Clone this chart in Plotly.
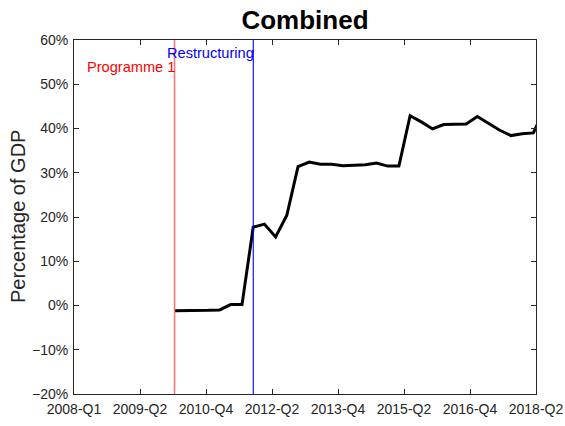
import numpy as np
import plotly.graph_objects as go

# Combined exposure, percentage of GDP, one observation per quarter
combined_share = [-1.2, -1.2, -1.1, -1.1, -1.0, 0.2, 0.2, 17.7, 18.4, 15.5,
                  20.4, 31.4, 32.4, 31.9, 31.9, 31.6, 31.7, 31.8, 32.2, 31.5,
                  31.5, 42.9, 41.5, 39.9, 40.9, 40.9, 41.0, 42.7, 41.1, 39.6,
                  38.4, 38.8, 39.0, 44.5]
first_obs = 2010.29      # decimal year of the first observation
obs_step = 0.2547        # spacing between observations, in years

# Event markers (decimal years)
event_names = ["Programme 1", "Restructuring"]
event_dates = [2010.285, 2012.074]
event_line_colors = ["#ff7070", "#0000ff"]
event_text_colors = ["#ff0000", "#0000ff"]

# Axis ticks
tick_years = [2008.0, 2009.5, 2011.0, 2012.5, 2014.0, 2015.5, 2017.0, 2018.5]
tick_labels = ["2008-Q1", "2009-Q2", "2010-Q4", "2012-Q2",
               "2013-Q4", "2015-Q2", "2016-Q4", "2018-Q2"]

x = first_obs + obs_step * np.arange(len(combined_share))

FONT = "Liberation Sans, Arial, sans-serif"
AX = "#262626"
L, R, T, B, W, H = 74, 29, 40, 32, 565, 426

fig = go.Figure()
fig.add_trace(go.Scatter(x=x, y=combined_share, mode="lines",
                         line=dict(color="black", width=3),
                         showlegend=False, hoverinfo="skip"))

for name, d, lc, tc, ylab, w in zip(event_names, event_dates, event_line_colors,
                                    event_text_colors, [0.924, 0.962], [1.5, 1.1]):
    fig.add_shape(type="line", xref="x", yref="paper", x0=d, x1=d, y0=0, y1=1,
                  line=dict(color=lc, width=w), layer="above")
    fig.add_annotation(x=d, y=ylab, xref="x", yref="paper", text=name,
                       showarrow=False, xanchor="right", yanchor="middle",
                       xshift=1.5, font=dict(family=FONT, size=14.6, color=tc),
                       borderpad=0)

# Rotated y-axis title
fig.add_annotation(x=(18 - L) / (W - L - R), y=0.5, xref="paper", yref="paper",
                   text="Percentage of GDP", showarrow=False, textangle=-90,
                   xanchor="center", yanchor="middle",
                   font=dict(family=FONT, size=20, color=AX))

fig.update_layout(
    width=W, height=H,
    margin=dict(l=L, r=R, t=T, b=B, autoexpand=False),
    paper_bgcolor="white", plot_bgcolor="white",
    font=dict(family=FONT, color=AX),
    title=dict(text="<b>Combined</b>", x=0.5, xref="paper",
               y=1 - 20 / H, yref="container", yanchor="middle",
               xanchor="center", font=dict(family=FONT, size=26, color="black")),
)
fig.update_xaxes(range=[2008.0, 2018.5], tickvals=tick_years, ticktext=tick_labels,
                 showgrid=False, zeroline=False, showline=True, linecolor=AX,
                 linewidth=1, mirror="ticks", ticks="inside", ticklen=5,
                 tickcolor=AX, tickfont=dict(size=14, color=AX), automargin=False,
                 ticklabelstandoff=2)
fig.update_yaxes(range=[-20, 60], dtick=10, ticksuffix="%",
                 showgrid=False, zeroline=False, showline=True, linecolor=AX,
                 linewidth=1, mirror="ticks", ticks="inside", ticklen=5,
                 tickcolor=AX, tickfont=dict(size=14, color=AX), automargin=False,
                 ticklabelstandoff=2)

fig.write_html("out.html")
